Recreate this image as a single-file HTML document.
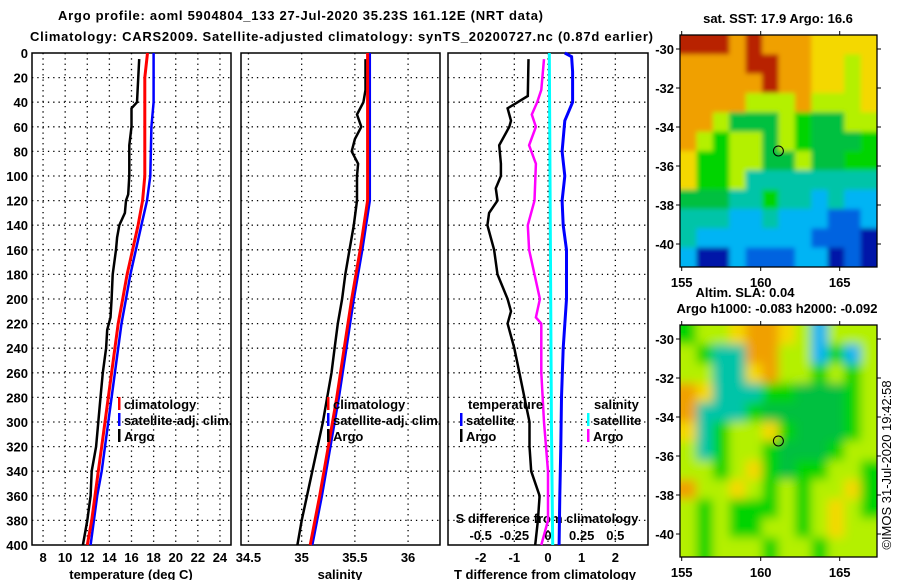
<!DOCTYPE html>
<html><head><meta charset="utf-8">
<style>
html,body{margin:0;padding:0;background:#fff;}
svg{display:block;font-family:"Liberation Sans",sans-serif;}
.t{font-weight:bold;font-size:13px;fill:#000;}
</style></head>
<body>
<svg id="fig" width="900" height="580" viewBox="0 0 900 580"></svg>
<script>
// ---------- data ----------
const depthTicks = [0,20,40,60,80,100,120,140,160,180,200,220,240,260,280,300,320,340,360,380,400];
const tempTicks = [8,10,12,14,16,18,20,22,24];
const salTicks = [34.5,35,35.5,36];
const tdiffTicks = [-2,-1,0,1,2];
const sdiffTicks = [-0.5,-0.25,0,0.25,0.5];

const argoTDepth = [5,40,45,60,75,100,115,120,130,140,150,160,180,200,215,225,240,260,280,300,320,340,360,380,400];
const argoTemp   = [16.7,16.5,16.0,16.0,15.8,15.8,15.7,15.5,15.4,14.9,14.7,14.6,14.3,14.2,14.1,13.8,13.7,13.4,13.2,13.0,12.8,12.4,12.3,12.0,11.6];
const climDepth = [0,20,100,120,140,160,180,200,220,240,260,280,300,320,340,360,380,400];
const climTemp  = [17.45,17.2,17.2,17.0,16.6,16.1,15.6,15.2,14.8,14.5,14.2,13.9,13.6,13.3,13.0,12.7,12.4,12.0];
const satDepth = [0,40,60,100,120,140,160,180,200,220,240,260,280,300,320,340,360,380,400];
const satTemp  = [18.0,18.0,17.8,17.7,17.4,16.9,16.4,15.9,15.5,15.1,14.8,14.5,14.2,13.9,13.6,13.3,12.9,12.6,12.3];

const argoSDepth = [5,30,40,50,60,70,80,90,100,120,140,160,180,200,220,240,260,280,300,320,340,360,380,400];
const argoSal    = [35.6,35.6,35.58,35.52,35.56,35.5,35.47,35.53,35.52,35.52,35.49,35.45,35.41,35.38,35.34,35.31,35.28,35.24,35.2,35.15,35.1,35.05,35.0,34.96];
const climSDepth = [0,120,160,200,240,280,320,360,400];
const climSal    = [35.62,35.62,35.55,35.47,35.4,35.33,35.25,35.17,35.08];
const satSal     = [35.64,35.64,35.57,35.49,35.42,35.35,35.27,35.19,35.1];

const tdSatDepth = [0,3,15,40,55,80,100,120,140,160,200,240,280,320,360,400];
const tdSat      = [0.5,0.7,0.73,0.73,0.5,0.42,0.5,0.42,0.45,0.55,0.55,0.45,0.4,0.38,0.35,0.33];
const tdArgoDepth = [5,35,40,45,55,60,75,90,100,110,120,130,140,160,180,200,210,220,240,260,280,300,320,340,360,380,400];
const tdArgo      = [-0.58,-0.6,-0.9,-1.2,-1.1,-1.15,-1.45,-1.4,-1.4,-1.55,-1.5,-1.75,-1.8,-1.6,-1.5,-1.2,-1.1,-1.2,-1.0,-0.85,-0.7,-0.55,-0.55,-0.5,-0.25,-0.3,-0.38];
const sdSatDepth = [0,100,200,300,400];
const sdSat      = [0.01,0.015,0.02,0.025,0.035];
const sdArgoDepth = [5,30,40,50,60,75,90,120,140,160,180,200,215,220,260,300,340,380,400];
const sdArgo      = [-0.03,-0.05,-0.08,-0.12,-0.09,-0.14,-0.09,-0.1,-0.15,-0.14,-0.1,-0.06,-0.09,-0.05,-0.05,-0.03,0,0,-0.05];

const mapSST = [
"RRROROOOYYYY","OOOORROOYYLY","OOOOOROOYYLY","OOOOLLLOLLLY",
"OOLDDDLGDDLL","OLGLLDLGDDDG","YGGLLDDLDDGG","YGGLTTTTTTTT",
"DDDTTGTTCTCC","TTTCCTCCCBBC","TCCCCCCCBBBN","CNNCBBBCCNBN"];
const mapSLA = [
"GLLYOOYLCLLL","LGTTOOLLCGCL","LLTTYOLLGLGL","OYTTTGGDDDGL",
"OTTTGDDDDDGL","YTGLLYGDDDGL","LTGLLGDDDGLL","LLGLYGDGGLLG",
"OLLYLGLGLLYG","LGLGGGLGLYLG","LGLGGLLGLYLL","LGLLLGLLGLLL"];
const lonTicks = [155,160,165];
const latTicks = [-30,-32,-34,-36,-38,-40];
const argoLon = 161.12, argoLat = -35.23;

// ---------- helpers ----------
const NS = "http://www.w3.org/2000/svg";
const svg = document.getElementById('fig');
function mk(tag, attrs, parent){ const e=document.createElementNS(NS,tag); for(const k in attrs) e.setAttribute(k,attrs[k]); (parent||svg).appendChild(e); return e; }
function txt(s,x,y,anchor,parent,extra){ const e=mk('text',Object.assign({x:x,y:y,'text-anchor':anchor||'start',class:'t'},extra||{}),parent); e.textContent=s; return e; }

const Y0=53, Y1=545;
const yD = d => Y0 + (d/400)*(Y1-Y0);
const panels = [
 {x0:32,x1:231,v0:7,v1:25},
 {x0:241,x1:440,v0:34.43,v1:36.3},
 {x0:448,x1:648,v0:-2.97,v1:2.97}
];
const xs = (p,v) => p.x0 + (v-p.v0)/(p.v1-p.v0)*(p.x1-p.x0);

let e;
e=txt('Argo profile: aoml 5904804_133 27-Jul-2020 35.23S 161.12E (NRT data)',58,20,'start',null,{textLength:485,'font-size':'14px'});
 
e=txt('Climatology: CARS2009. Satellite-adjusted climatology: synTS_20200727.nc (0.87d earlier)',30,41,'start',null,{textLength:623,'font-size':'14px'});
 

function line(p,vals,depths,color,w,name,scale){
  const pts = vals.map((v,i)=> xs(p,v*(scale||1)).toFixed(1)+','+yD(depths[i]).toFixed(1)).join(' ');
  const pl = mk('polyline',{points:pts,fill:'none',stroke:color,'stroke-width':w,'stroke-linejoin':'miter'});
  
  
}

panels.forEach((p,pi)=>{
  const g = mk('g',{});
  
  
  depthTicks.forEach(d=>{ if(d>0&&d<400) mk('line',{x1:p.x0,x2:p.x1,y1:yD(d),y2:yD(d),stroke:'#000','stroke-width':1.3,'stroke-dasharray':'1.3,4'},g); });
  const vt = pi==0?tempTicks:pi==1?salTicks:tdiffTicks;
  vt.forEach(v=>{ const x=xs(p,v); mk('line',{x1:x,x2:x,y1:Y0,y2:Y1,stroke:'#000','stroke-width':1.3,'stroke-dasharray':'1.3,4'},g);
    const t=txt(String(v),x,562,'middle',g);   });
  mk('rect',{x:p.x0,y:Y0,width:p.x1-p.x0,height:Y1-Y0,fill:'none',stroke:'#000','stroke-width':1.5},g);
});
depthTicks.forEach(d=>{ const t=txt(String(d),28,yD(d)+5,'end');   });

e=txt('temperature (deg C)',131,579,'middle');  
e=txt('salinity',340,579,'middle');  
e=txt('T difference from climatology',545,579,'middle');  
e=txt('S difference from climatology',547,523,'middle');  
sdiffTicks.forEach(v=>{ const t=txt(String(v),xs(panels[2],v*4),540,'middle');   });

const P1=panels[0],P2=panels[1],P3=panels[2];
line(P1,argoTemp,argoTDepth,'#000',2.5,'argo-temperature-line');
line(P1,satTemp,satDepth,'#0000ff',2.5,'satellite-temperature-line');
line(P1,climTemp,climDepth,'#ff0000',3,'climatology-temperature-line');
line(P2,argoSal,argoSDepth,'#000',2.5,'argo-salinity-line');
line(P2,satSal,climSDepth,'#0000ff',2.5,'satellite-salinity-line');
line(P2,climSal,climSDepth,'#ff0000',3,'climatology-salinity-line');
line(P3,tdArgo,tdArgoDepth,'#000',2.5,'argo-tdiff-line');
line(P3,tdSat,tdSatDepth,'#0000ff',3,'satellite-tdiff-line');
line(P3,sdArgo,sdArgoDepth,'#ff00ff',2.5,'argo-sdiff-line',4);
line(P3,sdSat,sdSatDepth,'#00ffff',3,'satellite-sdiff-line',4);

function leg(x,y,color,label,name){
  const g=mk('g',{});  
  if(color) mk('rect',{x:x,y:y-7,width:2.5,height:13,fill:color},g);
  txt(label,x+(color?6:0),y+5,'start',g);
}
leg(118,404,'#ff0000','climatology','legend-climatology');
leg(118,420,'#0000ff','satellite-adj. clim.','legend-satellite-adj');
leg(118,436,'#000','Argo','legend-argo');
leg(327,404,'#ff0000','climatology','legend-sal-climatology');
leg(327,420,'#0000ff','satellite-adj. clim.','legend-sal-satellite');
leg(327,436,'#000','Argo','legend-sal-argo');
leg(468,404,null,'temperature','legend-temperature-heading');
leg(460,420,'#0000ff','satellite','legend-t-satellite');
leg(460,436,'#000','Argo','legend-t-argo');
leg(594,404,null,'salinity','legend-salinity-heading');
leg(587,420,'#00ffff','satellite','legend-s-satellite');
leg(587,436,'#ff00ff','Argo','legend-s-argo');

const COL = {R:'#b82000',O:'#f0a000',Y:'#f4d800',L:'#b4f000',G:'#00d400',D:'#00c040',T:'#00c4a8',C:'#00b4f4',B:'#0064e0',N:'#0018a8'};
mk('defs',{}).innerHTML='<filter id="bl" x="-5%" y="-5%" width="110%" height="110%"><feGaussianBlur stdDeviation="5"/></filter><filter id="bl2"><feGaussianBlur stdDeviation="2.5"/></filter><clipPath id="c1"><rect x="680" y="35" width="197" height="232"/></clipPath><clipPath id="c2"><rect x="680" y="325" width="197" height="232"/></clipPath>';
function drawMap(grid,top,clip,filt,name){
  const mx0=680,mx1=877,my0=top,my1=top+232;
  const lx = lon => 681.7 + (lon-155)*15.8;
  const ly = lat => top+14 + (-30-lat)*19.5;
  const g=mk('g',{});  
  const cg=mk('g',{'clip-path':'url(#'+clip+')'},g);
  const ig=mk('g',{filter:'url(#'+filt+')'},cg);
  const nr=grid.length,nc=grid[0].length,cw=(mx1-mx0)/nc,ch=(my1-my0)/nr;
  grid.forEach((row,r)=>{ for(let c=0;c<nc;c++){ mk('rect',{x:mx0+c*cw-cw*0.5*(c==0),y:my0+r*ch-ch*0.5*(r==0),width:cw*(1+0.5*(c==0||c==nc-1))+1,height:ch*(1+0.5*(r==0||r==nr-1))+1,fill:COL[row[c]]},ig); } });
  mk('rect',{x:mx0,y:my0,width:mx1-mx0,height:my1-my0,fill:'none',stroke:'#000','stroke-width':1.3},g);
  lonTicks.forEach(l=>{ const x=lx(l); mk('line',{x1:x,x2:x,y1:my0,y2:my0-4,stroke:'#000'},g); mk('line',{x1:x,x2:x,y1:my1,y2:my1+4,stroke:'#000'},g);
    const t=txt(String(l),x,my1+20,'middle',g,{'font-size':'14px'});   });
  latTicks.forEach(l=>{ const y=ly(l); mk('line',{x1:mx0,x2:mx0-4,y1:y,y2:y,stroke:'#000'},g); mk('line',{x1:mx1,x2:mx1+4,y1:y,y2:y,stroke:'#000'},g);
    const t=txt(String(l),674,y+5,'end',g);   });
  const c=mk('circle',{cx:lx(argoLon),cy:ly(argoLat),r:5,fill:'none',stroke:'#000','stroke-width':1},g);
   
}
drawMap(mapSST,35,'c1','bl2','sst-map');
drawMap(mapSLA,325,'c2','bl','sla-map');
e=txt('sat. SST: 17.9 Argo: 16.6',778,23,'middle');  
e=txt('Altim. SLA: 0.04',745,297,'middle');  
e=txt('Argo h1000: -0.083 h2000: -0.092',777,313,'middle');  
e=txt('©IMOS 31-Jul-2020 19:42:58',0,0,'middle',null,{transform:'translate(891,465) rotate(-90)',style:'font-weight:normal;font-size:13px'});
 
</script>
</body></html>
